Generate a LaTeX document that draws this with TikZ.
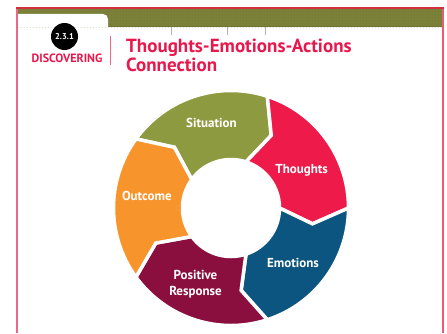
\documentclass[tikz,border=0pt]{standalone}
\usepackage{fontspec}
\setmainfont{PT Sans}
\usetikzlibrary{patterns}

\definecolor{bandolive}{HTML}{7B8139}
\definecolor{banddot}{HTML}{6F7531}
\definecolor{framered}{HTML}{D2323F}
\definecolor{framepink}{HTML}{EE6786}
\definecolor{titlered}{HTML}{E8174C}
\definecolor{segolive}{HTML}{8E9A3F}
\definecolor{segred}{HTML}{EE1A4A}
\definecolor{segblue}{HTML}{0C5580}
\definecolor{segmaroon}{HTML}{8B0F3E}
\definecolor{segorange}{HTML}{F7942C}

\begin{document}
\begin{tikzpicture}[x=1pt, y=1pt,
    txt/.style={inner sep=0pt, font=\bfseries},
    seglabel/.style={txt, text=white, align=center,
      font=\bfseries\fontsize{13}{16.5}\selectfont},
    ringpart/.style={fill=#1, draw=white, line width=3.5pt}]
  \useasboundingbox (0,0) rectangle (447,333);

  % header band, tab and frame
  \fill[bandolive] (18,306) rectangle (442,324);
  \fill[pattern=dots, pattern color=banddot] (18,306) rectangle (442,324);
  \fill[banddot] (108,306) rectangle (442,307.5);
  \fill[white] (18,306) -- (18,319) -- (103,319)
    arc[start angle=90, end angle=0, radius=5] -- (108,306) -- cycle;
  \foreach \x in {171,227,265}
    \draw[gray!60, line width=0.7pt] (\x,306) -- (\x,298);
  \draw[framepink, line width=2pt] (17,325) -- (17,0);
  \draw[framepink!80!framered, line width=2pt] (443,325) -- (443,0);
  \draw[framered, line width=2pt] (16,325) -- (444,325);

  % section badge and title
  \node[circle, fill=black, minimum size=27pt, inner sep=0pt, text=white,
    font=\bfseries\fontsize{8.5}{9}\selectfont] (badge) at (64.5,296.5) {2.3.1};
  \node[txt, anchor=base, text=titlered, font=\bfseries\fontsize{12}{14}\selectfont]
    (stage) at (67,271) {DISCOVERING};
  \draw[framepink, line width=1pt] (110,297) -- (110,268);
  \node[txt, anchor=base west, align=left, text=titlered,
    font=\bfseries\fontsize{19}{16}\selectfont]
    (title) at (126,262) {Thoughts-Emotions-Actions\\Connection};

  % the cycle
  \def\Rout{117.5}
  \def\Rin{48.5}
  \def\Rmid{83}
  \begin{scope}[shift={(231,125)}]
    \foreach \a/\col/\name/\pos/\lbl in {144/segolive/situation/{103:87}/Situation,
        72/segred/thoughts/{28:80}/Thoughts, 0/segblue/emotions/{-41.6:83}/Emotions,
        -72/segmaroon/response/{-115:84}/{Positive\\Response},
        -144/segorange/outcome/{172:85}/Outcome}{
      \filldraw[ringpart=\col] (\a:\Rout)
        arc[start angle=\a, end angle=\a-72, radius=\Rout]
        -- (\a-83:\Rmid) -- (\a-72:\Rin)
        arc[start angle=\a-72, end angle=\a, radius=\Rin]
        -- (\a-11:\Rmid) -- cycle;
      \node[seglabel] (\name) at (\pos) {\lbl};
    }
  \end{scope}
\end{tikzpicture}
\end{document}
